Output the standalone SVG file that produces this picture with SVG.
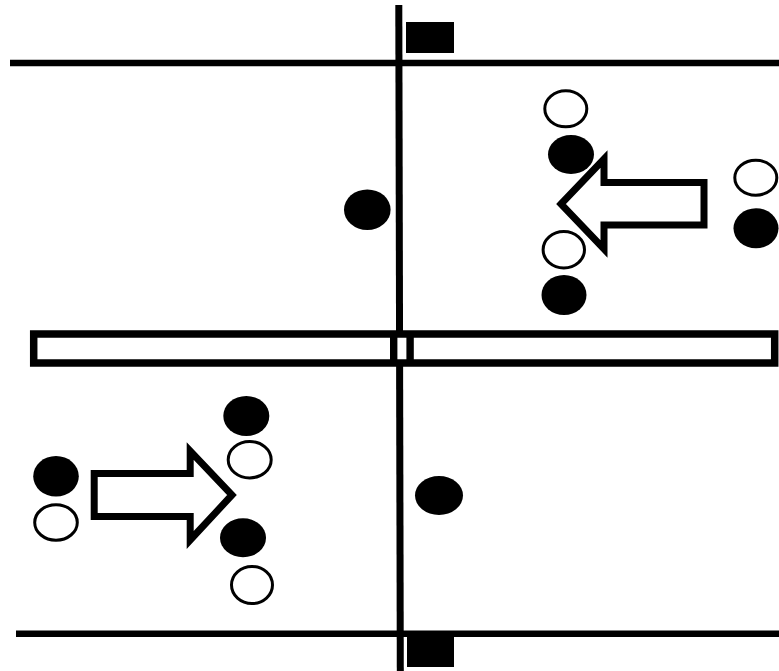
<svg xmlns="http://www.w3.org/2000/svg" width="779" height="671" viewBox="0 0 779 671">
<style>
.ln{stroke:#000;stroke-width:6.5;fill:none}
.f{fill:#000}
.o{fill:#fff;stroke:#000;stroke-width:3}
.ar{fill:#fff;stroke:#000;stroke-width:7;stroke-linejoin:miter;stroke-miterlimit:10}
</style>
<rect width="779" height="671" fill="#fff"/>
<g id="court-lines">
<line class="ln" x1="10" y1="63" x2="779" y2="63"/>
<line class="ln" x1="16" y1="633.7" x2="779" y2="633.7"/>
<line class="ln" x1="398.8" y1="5" x2="400.3" y2="671" style="stroke-width:7"/>
<rect x="406" y="22" width="48" height="31" class="f"/>
<rect x="407" y="633" width="47" height="34" class="f"/>
</g>
<g id="net">
<rect x="33.7" y="334" width="741" height="29" fill="#fff" stroke="#000" stroke-width="7.5"/>
<line x1="393.7" y1="334" x2="393.7" y2="363" stroke="#000" stroke-width="7.4"/>
<line x1="410.1" y1="334" x2="410.1" y2="363" stroke="#000" stroke-width="7.4"/>
</g>
<g id="players-top">
<ellipse id="p1" class="f" cx="367.3" cy="209.7" rx="23.3" ry="20.3"/>
<ellipse id="p2" class="o" cx="565.8" cy="108.8" rx="21" ry="18"/>
<ellipse id="p3" class="f" cx="571" cy="154.5" rx="23" ry="19.5"/>
<ellipse id="p4" class="o" cx="563.8" cy="249.7" rx="20.7" ry="18.2"/>
<ellipse id="p5" class="f" cx="564" cy="295" rx="22.5" ry="20"/>
<ellipse id="p6" class="o" cx="755.8" cy="177.8" rx="21" ry="17.5"/>
<ellipse id="p7" class="f" cx="756" cy="228.3" rx="22.5" ry="20"/>
</g>
<g id="players-bottom">
<ellipse id="p8" class="f" cx="439" cy="495.5" rx="24" ry="19.5"/>
<ellipse id="p9" class="f" cx="56" cy="476.3" rx="22.8" ry="20.3"/>
<ellipse id="p10" class="o" cx="56" cy="522.5" rx="21.3" ry="17.7"/>
<ellipse id="p11" class="f" cx="246.3" cy="416" rx="23" ry="20"/>
<ellipse id="p12" class="o" cx="249.7" cy="459.7" rx="21.5" ry="18.2"/>
<ellipse id="p13" class="f" cx="243" cy="537.8" rx="23" ry="19.5"/>
<ellipse id="p14" class="o" cx="252" cy="585" rx="20.5" ry="18.5"/>
</g>
<g id="arrows">
<polygon id="arrow-left" class="ar" points="561,204 604,159 604,182.5 704,182.5 704,225 604,225 604,249"/>
<polygon id="arrow-right" class="ar" points="94.2,473.5 190.2,473.5 190.2,451 232,495 190.2,540 190.2,516.5 94.2,516.5"/>
</g>
</svg>
